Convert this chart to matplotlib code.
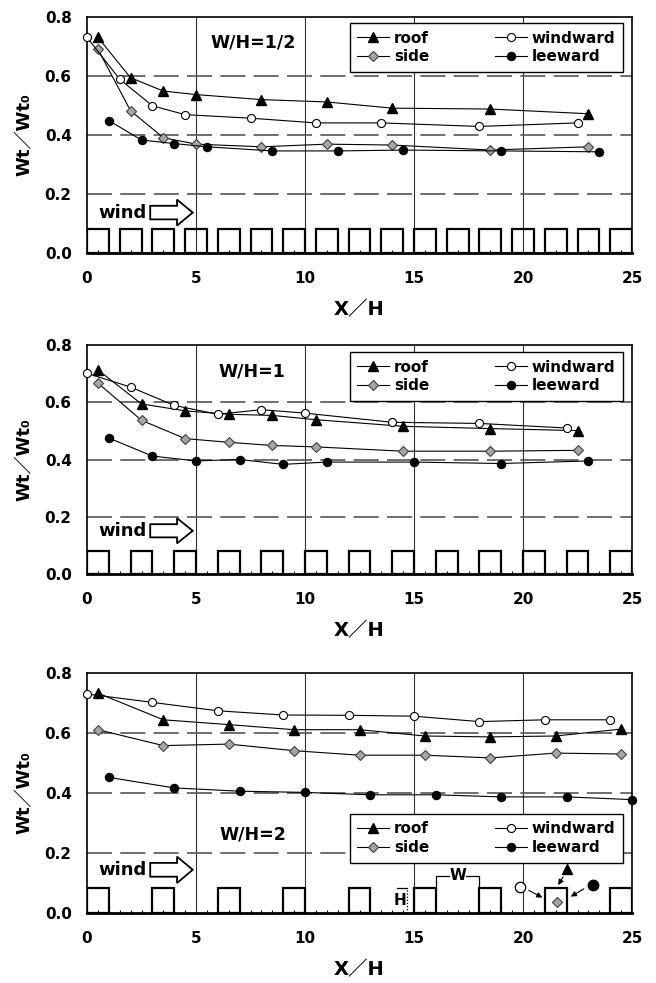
import numpy as np
import matplotlib
matplotlib.use('Agg')
import matplotlib.pyplot as plt
from matplotlib.patches import Rectangle, FancyArrow

plt.rcParams['font.family'] = ['DejaVu Sans', 'Noto Sans CJK JP']
plt.rcParams['font.weight'] = 'bold'

# ---------------- data ----------------
panel_titles = ["W/H=1/2", "W/H=1", "W/H=2"]
street_ratio = [0.5, 1.0, 2.0]          # W/H (street width / building height)
series_names = ["roof", "side", "windward", "leeward"]

# Panel 1 : W/H = 1/2
p1_roof_x = [0.5, 2, 3.5, 5, 8, 11, 14, 18.5, 23]
p1_roof_y = [0.731, 0.594, 0.549, 0.537, 0.520, 0.512, 0.491, 0.488, 0.472]
p1_side_x = [0.5, 2, 3.5, 5, 8, 11, 14, 18.5, 23]
p1_side_y = [0.691, 0.482, 0.391, 0.369, 0.360, 0.369, 0.366, 0.349, 0.360]
p1_wind_x = [0, 1.5, 3, 4.5, 7.5, 10.5, 13.5, 18, 22.5]
p1_wind_y = [0.731, 0.589, 0.499, 0.469, 0.457, 0.441, 0.441, 0.429, 0.441]
p1_lee_x = [1, 2.5, 4, 5.5, 8.5, 11.5, 14.5, 19, 23.5]
p1_lee_y = [0.449, 0.383, 0.371, 0.360, 0.346, 0.346, 0.349, 0.346, 0.343]

# Panel 2 : W/H = 1
p2_roof_x = [0.5, 2.5, 4.5, 6.5, 8.5, 10.5, 14.5, 18.5, 22.5]
p2_roof_y = [0.713, 0.594, 0.570, 0.558, 0.554, 0.539, 0.516, 0.508, 0.501]
p2_side_x = [0.5, 2.5, 4.5, 6.5, 8.5, 10.5, 14.5, 18.5, 22.5]
p2_side_y = [0.667, 0.537, 0.473, 0.460, 0.449, 0.444, 0.429, 0.429, 0.432]
p2_wind_x = [0, 2, 4, 6, 8, 10, 14, 18, 22]
p2_wind_y = [0.701, 0.653, 0.589, 0.558, 0.574, 0.562, 0.530, 0.526, 0.510]
p2_lee_x = [1, 3, 5, 7, 9, 11, 15, 19, 23]
p2_lee_y = [0.475, 0.412, 0.395, 0.400, 0.383, 0.391, 0.391, 0.386, 0.395]

# Panel 3 : W/H = 2
p3_roof_x = [0.5, 3.5, 6.5, 9.5, 12.5, 15.5, 18.5, 21.5, 24.5]
p3_roof_y = [0.733, 0.644, 0.628, 0.611, 0.611, 0.590, 0.587, 0.590, 0.613]
p3_side_x = [0.5, 3.5, 6.5, 9.5, 12.5, 15.5, 18.5, 21.5, 24.5]
p3_side_y = [0.611, 0.558, 0.563, 0.541, 0.526, 0.526, 0.517, 0.533, 0.530]
p3_wind_x = [0, 3, 6, 9, 12, 15, 18, 21, 24]
p3_wind_y = [0.730, 0.702, 0.674, 0.660, 0.659, 0.656, 0.638, 0.644, 0.644]
p3_lee_x = [1, 4, 7, 10, 13, 16, 19, 22, 25]
p3_lee_y = [0.452, 0.417, 0.406, 0.402, 0.394, 0.394, 0.387, 0.387, 0.378]

panels = [
    [(p1_roof_x, p1_roof_y), (p1_side_x, p1_side_y), (p1_wind_x, p1_wind_y), (p1_lee_x, p1_lee_y)],
    [(p2_roof_x, p2_roof_y), (p2_side_x, p2_side_y), (p2_wind_x, p2_wind_y), (p2_lee_x, p2_lee_y)],
    [(p3_roof_x, p3_roof_y), (p3_side_x, p3_side_y), (p3_wind_x, p3_wind_y), (p3_lee_x, p3_lee_y)],
]

x_ticks = [0, 5, 10, 15, 20, 25]
y_ticks = [0.0, 0.2, 0.4, 0.6, 0.8]
y_tick_labels = ["0.0", "0.2", "0.4", "0.6", "0.8"]

# ---------------- styling ----------------
styles = {
    "roof": dict(marker='^', ms=6.8, mfc='black', mec='black'),
    "side": dict(marker='D', ms=5.0, mfc='#a6a6a6', mec='#404040', mew=0.8),
    "windward": dict(marker='o', ms=5.8, mfc='white', mec='black', mew=0.8),
    "leeward": dict(marker='o', ms=5.8, mfc='black', mec='black'),
}

W, H = 656, 983
fig = plt.figure(figsize=(W / 100, H / 100), dpi=100)

# axes boxes in pixels: (left, top, right, bottom)
boxes = [(87, 17, 632, 253), (87, 345, 632, 574), (87, 673, 632, 913)]
title_pos = [(7.6, 0.714), (7.55, 0.707), (7.6, 0.261)]
wind_y = [0.137, 0.151, 0.144]
legend_anchor = [(0.983, 0.975), (0.983, 0.97), (0.983, 0.414)]
bldg_h = 0.082

for i, (l, t, r, b) in enumerate(boxes):
    ax = fig.add_axes([l / W, 1 - b / H, (r - l) / W, (b - t) / H])
    ax.set_xlim(0, 25)
    ax.set_ylim(0, 0.8)

    # grid
    for xv in x_ticks[1:-1]:
        ax.axvline(xv, color='#303030', lw=0.8, zorder=1)
    for yv in y_ticks[1:-1]:
        ax.axhline(yv, color='#555555', lw=1.2, dashes=(15, 5), zorder=1)

    # buildings
    period = 1 + street_ratio[i]
    starts = np.arange(0, 25 - 1 + 1e-6, period)
    for s in starts:
        ax.add_patch(Rectangle((s, 0), 1, bldg_h, fc='none', ec='black', lw=1.6, zorder=2))

    # data series
    handles = []
    for name, (xs, ys) in zip(series_names, panels[i]):
        h, = ax.plot(xs, ys, color='black', lw=0.8, label=name, zorder=4,
                     clip_on=False, **styles[name])
        handles.append(h)

    leg = ax.legend(handles=handles, ncol=2, loc='upper right',
                    bbox_to_anchor=legend_anchor[i], fontsize=11,
                    frameon=True, fancybox=False, framealpha=1,
                    edgecolor='black', handlelength=2.1, handletextpad=0.3,
                    columnspacing=4.3, labelspacing=0.25, borderpad=0.5,
                    borderaxespad=0)
    leg.get_frame().set_linewidth(1.0)
    leg.set_zorder(6)

    ax.text(title_pos[i][0], title_pos[i][1], panel_titles[i], fontsize=12.5,
            fontweight='bold', ha='center', va='center', zorder=5)

    # wind arrow
    ax.text(0.5, wind_y[i], "wind", fontsize=13, fontweight='bold',
            ha='left', va='center', zorder=5)
    ax.add_patch(FancyArrow(2.9, wind_y[i], 1.95, 0, width=0.046, head_width=0.088,
                            head_length=0.72, length_includes_head=True,
                            fc='white', ec='black', lw=1.3, zorder=5))

    # axes styling
    for sp in ['left', 'top', 'right']:
        ax.spines[sp].set_color('black')
        ax.spines[sp].set_linewidth(1.2)
    ax.spines['bottom'].set_linewidth(2.0)
    ax.set_xticks(x_ticks)
    ax.set_yticks(y_ticks)
    ax.set_yticklabels(y_tick_labels)
    ax.set_xticks(np.arange(0, 25.01, 0.5), minor=True)
    ax.tick_params(axis='x', which='major', length=0, pad=13, labelsize=11)
    ax.tick_params(axis='x', which='minor', length=2, direction='in', width=0.8)
    ax.tick_params(axis='y', which='major', length=0, pad=11, labelsize=11)
    for lab in ax.get_xticklabels() + ax.get_yticklabels():
        lab.set_fontweight('bold')

    ax.set_xlabel("X／H", fontsize=14, fontweight='bold')
    ax.xaxis.set_label_coords(0.5, -57 / (b - t))
    ax.xaxis.label.set_va('center')
    ax.set_ylabel("Wt／Wt₀", fontsize=13, fontweight='bold')
    ax.yaxis.set_label_coords(-(87 - 25) / (r - l), 0.5)
    ax.yaxis.label.set_va('center')

    if i == 2:
        # W bracket
        ax.plot([16, 16, 16.62], [bldg_h, 0.124, 0.124], color='black', lw=0.9, zorder=5)
        ax.plot([17.38, 18, 18], [0.124, 0.124, bldg_h], color='black', lw=0.9, zorder=5)
        ax.text(17.0, 0.124, "W", fontsize=11, fontweight='bold', ha='center',
                va='center', zorder=5)
        # H bracket
        ax.plot([14.2, 14.7], [bldg_h, bldg_h], color='black', lw=0.9, zorder=5)
        ax.plot([14.7, 14.7], [0, bldg_h], color='black', lw=0.9, ls=(0, (1, 1.5)), zorder=5)
        ax.text(14.35, 0.043, "H", fontsize=11, fontweight='bold', ha='center',
                va='center', zorder=5)
        # measurement location sketch
        ax.plot([19.86], [0.088], marker='o', ms=7.5, mfc='white', mec='black', mew=0.9,
                clip_on=False, zorder=5)
        ax.plot([22.0], [0.146], marker='^', ms=6.8, mfc='black', mec='black', zorder=5)
        ax.plot([23.2], [0.093], marker='o', ms=7.5, mfc='black', mec='black', zorder=5)
        ax.plot([21.55], [0.038], marker='D', ms=5.0, mfc='#a6a6a6', mec='#404040',
                mew=0.8, zorder=5)
        arrow_kw = dict(arrowstyle='-|>', color='black', lw=0.8, mutation_scale=8)
        ax.annotate("", xy=(21.0, 0.047), xytext=(20.15, 0.080), arrowprops=arrow_kw, zorder=5)
        ax.annotate("", xy=(21.55, 0.085), xytext=(21.9, 0.128), arrowprops=arrow_kw, zorder=5)
        ax.annotate("", xy=(22.08, 0.050), xytext=(22.9, 0.085), arrowprops=arrow_kw, zorder=5)

fig.savefig("out.png", dpi=100)
